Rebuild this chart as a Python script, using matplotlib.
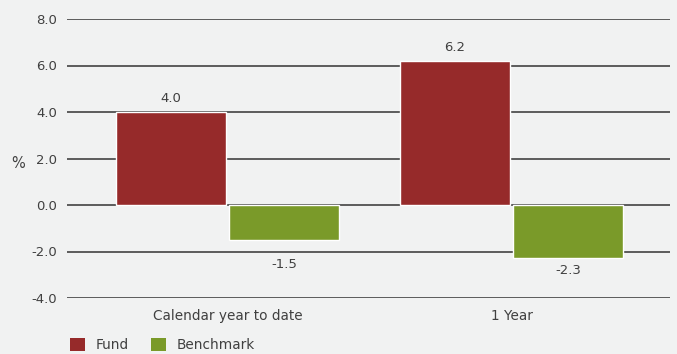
import matplotlib.pyplot as plt
import numpy as np
from matplotlib.patches import Patch

categories = ["Calendar year to date", "1 Year"]
fund = [4.0, 6.2]
benchmark = [-1.5, -2.3]
series_names = ["Fund", "Benchmark"]
colors = ["#962a2a", "#7a9a29"]
bg = "#f1f2f2"
txt = "#404040"

plt.rcParams["font.family"] = ["DejaVu Sans"]

fig = plt.figure(figsize=(6.77, 3.54), dpi=100, facecolor=bg)
ax = fig.add_axes([67 / 677, 1 - 298 / 354, 603 / 677, 279 / 354], facecolor=bg)

x = np.arange(len(categories))
w = 0.387
off = 0.199
b1 = ax.bar(x - off, fund, w, color=colors[0], edgecolor="white", linewidth=1, zorder=3)
b2 = ax.bar(x + off, benchmark, w, color=colors[1], edgecolor="white", linewidth=1, zorder=3)

ax.set_ylim(-4, 8)
ax.set_xlim(-0.565, 1.558)
ax.set_yticks(np.arange(-4, 8.1, 2))
ax.set_yticklabels([f"{v:.1f}" for v in np.arange(-4, 8.1, 2)])
ax.yaxis.grid(True, color="#333333", linewidth=1.1, zorder=0)
ax.tick_params(axis="y", length=0, pad=7, labelsize=9.5, labelcolor=txt)
ax.set_xticks(x)
ax.set_xticklabels(categories)
ax.tick_params(axis="x", length=0, pad=8, labelsize=9.8, labelcolor=txt)
for s in ax.spines.values():
    s.set_visible(False)

fig.text(18 / 677, 1 - 163 / 354, "%", ha="center", va="center", fontsize=10.5, color=txt)

for bars in (b1, b2):
    for bar in bars:
        v = bar.get_height()
        xc = bar.get_x() + bar.get_width() / 2
        if v >= 0:
            ax.annotate(f"{v:.1f}", (xc, v), xytext=(0, 5), textcoords="offset points",
                        ha="center", va="bottom", fontsize=9.5, color=txt)
        else:
            ax.annotate(f"{v:.1f}", (xc, min(v, -2.0)), xytext=(0, -9), textcoords="offset points",
                        ha="center", va="center", fontsize=9.5, color=txt)

handles = [Patch(facecolor=c, edgecolor="none") for c in colors]
fig.legend(handles, series_names, loc="lower left", bbox_to_anchor=(58 / 677, -0.028),
           ncol=2, frameon=False, handlelength=1.1, handleheight=1.1, handletextpad=0.8,
           columnspacing=1.6, fontsize=9.8, labelcolor=txt)

fig.savefig("out.png", dpi=100, facecolor=bg)
